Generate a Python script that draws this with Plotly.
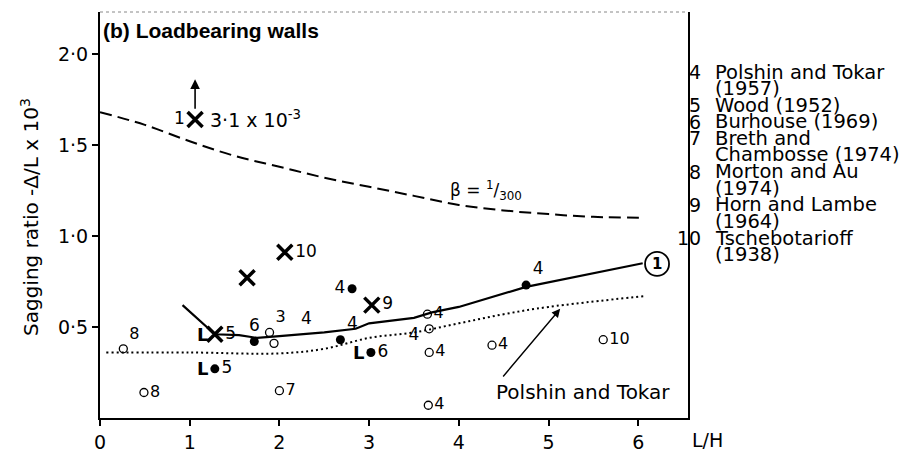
import plotly.graph_objects as go

# ---------------- data ----------------
# beta = 1/300 dashed curve
beta_x = [0.0, 0.5, 1.0, 1.5, 2.0, 2.5, 3.0, 3.5, 4.0, 4.5, 5.0, 5.5, 6.05]
beta_y = [1.68, 1.61, 1.52, 1.44, 1.38, 1.32, 1.27, 1.22, 1.17, 1.14, 1.12, 1.105, 1.10]

# curve (1) solid
c1_x = [0.92, 1.28, 1.55, 1.75, 2.0, 2.5, 2.85, 3.0, 3.5, 3.7, 4.0, 4.75, 6.05]
c1_y = [0.62, 0.46, 0.455, 0.44, 0.45, 0.47, 0.49, 0.52, 0.55, 0.58, 0.61, 0.72, 0.85]

# Polshin and Tokar dotted curve
pt_x = [0.07, 1.0, 2.0, 2.5, 3.0, 3.5, 4.0, 4.5, 5.0, 6.08]
pt_y = [0.36, 0.36, 0.355, 0.38, 0.44, 0.47, 0.52, 0.57, 0.61, 0.67]

# open circles
open_x = [0.26, 0.49, 1.89, 1.94, 2.0, 3.65, 3.67, 3.67, 3.66, 4.37, 5.61]
open_y = [0.38, 0.14, 0.47, 0.41, 0.15, 0.57, 0.49, 0.36, 0.07, 0.40, 0.43]
open_lbl = ["8", "8", "3", "", "7", "4", "", "4", "4", "4", "10"]
open_pos = ["top right", "middle right", "top right", "middle right", "middle right",
            "middle right", "middle right", "middle right", "middle right", "middle right", "middle right"]

# filled circles
fill_x = [1.28, 1.72, 2.68, 2.81, 3.02, 4.75]
fill_y = [0.27, 0.42, 0.43, 0.71, 0.36, 0.73]
fill_lbl = ["5", "6", "4", "4", "6", "4"]
fill_pre = ["L", "", "", "", "L", ""]
fill_pos = ["middle right", "top center", "top right", "middle left", "middle right", "top right"]

# crosses
cross_x = [1.06, 1.28, 1.64, 2.06, 3.03]
cross_y = [1.64, 0.46, 0.77, 0.91, 0.62]
cross_lbl = ["1", "5", "", "10", "9"]
cross_pre = ["", "L", "", "", ""]
cross_pos = ["middle left", "middle right", "middle right", "middle right", "middle right"]

# labels without a visible marker
txt_x = [2.3, 3.5]
txt_y = [0.54, 0.45]
txt_lbl = ["4", "4"]

x_ticks = [0, 1, 2, 3, 4, 5, 6]
x_ticktext = ["0", "1", "2", "3", "4", "5", "6"]
y_ticks = [0.5, 1.0, 1.5, 2.0]
y_ticktext = ["0·5", "1·0", "1·5", "2·0"]

legend_num = ["4", "", "5", "6", "7", "", "8", "", "9", "", "10", ""]
legend_txt = ["Polshin and Tokar", "(1957)", "Wood (1952)", "Burhouse (1969)", "Breth and",
              "Chambosse (1974)", "Morton and Au", "(1974)", "Horn and Lambe", "(1964)",
              "Tschebotarioff", "(1938)"]

# ---------------- figure ----------------
FONT = "DejaVu Sans"
TFONT = "Liberation Sans"
W, H = 919, 452
ML, MR, MT, MB = 100, 231, 12, 34
PW, PH = W - ML - MR, H - MT - MB
XR = [0, 6.555]
YR = [0, 2.23]

fig = go.Figure()

fig.add_trace(go.Scatter(x=beta_x, y=beta_y, mode="lines", line_shape="spline",
                         line=dict(color="black", width=2, dash="12px,6px"), hoverinfo="skip"))
fig.add_trace(go.Scatter(x=pt_x, y=pt_y, mode="lines", line_shape="spline",
                         line=dict(color="black", width=2, dash="2px,3px"), hoverinfo="skip"))
fig.add_trace(go.Scatter(x=c1_x, y=c1_y, mode="lines",
                         line=dict(color="black", width=2.2), hoverinfo="skip"))

fig.add_trace(go.Scatter(x=open_x, y=open_y, mode="markers+text", text=open_lbl,
                         textposition=open_pos, textfont=dict(family=FONT, size=16, color="black"),
                         marker=dict(symbol="circle-open", size=8, color="black", line=dict(width=1.3))))
fig.add_trace(go.Scatter(x=fill_x, y=fill_y, mode="markers+text", text=fill_lbl,
                         textposition=fill_pos, textfont=dict(family=FONT, size=17, color="black"),
                         marker=dict(symbol="circle", size=9, color="black")))
fig.add_trace(go.Scatter(x=cross_x, y=cross_y, mode="markers+text", text=cross_lbl,
                         textposition=cross_pos, textfont=dict(family=FONT, size=17, color="black"),
                         marker=dict(symbol="x-thin", size=15, color="black",
                                     line=dict(width=3.5, color="black"))))
fig.add_trace(go.Scatter(x=txt_x, y=txt_y, mode="text", text=txt_lbl,
                         textfont=dict(family=FONT, size=17, color="black")))

ann = []
# "L" prefixes
for xs, ys, pres in ((fill_x, fill_y, fill_pre), (cross_x, cross_y, cross_pre)):
    for x, y, p in zip(xs, ys, pres):
        if p:
            ann.append(dict(x=x, y=y, text="<b>" + p + "</b>", showarrow=False, xanchor="right",
                            yanchor="middle", xshift=-5,
                            font=dict(family=FONT, size=18, color="black")))

# arrow above point 1 and its value
ann.append(dict(x=cross_x[0], y=1.86, ax=cross_x[0], ay=1.69, xref="x", yref="y",
                axref="x", ayref="y", showarrow=True, arrowhead=2, arrowsize=1.2,
                arrowwidth=1.6, arrowcolor="black", text=""))
ann.append(dict(x=1.2, y=1.64, text="3·1 x 10<sup>-3</sup>", showarrow=False, xanchor="left",
                yanchor="middle", font=dict(family=FONT, size=19, color="black")))
# beta label
ann.append(dict(x=3.88, y=1.25, text="β = <sup>1</sup>/<sub>300</sub>", showarrow=False,
                xanchor="left", yanchor="middle", font=dict(family=FONT, size=17, color="black")))
# Polshin and Tokar pointer
ann.append(dict(x=5.13, y=0.60, ax=4.48, ay=0.22, xref="x", yref="y", axref="x", ayref="y",
                showarrow=True, arrowhead=2, arrowsize=1.2, arrowwidth=1.4, arrowcolor="black",
                text=""))
ann.append(dict(x=5.38, y=0.145, text="Polshin and Tokar", showarrow=False,
                xanchor="center", yanchor="middle",
                font=dict(family=FONT, size=20, color="black")))
# circled 1
ann.append(dict(x=6.21, y=0.846, text="<b>1</b>", showarrow=False, xanchor="center",
                yanchor="middle", font=dict(family=FONT, size=15, color="black")))
# title
ann.append(dict(xref="paper", yref="paper", x=0, y=1, xshift=1, yshift=-5,
                text="(b) Loadbearing walls", showarrow=False, xanchor="left", yanchor="top",
                font=dict(family=TFONT, size=21, color="black", weight="bold")))
# axis titles
ann.append(dict(xref="paper", yref="paper", x=0, y=0.5, xshift=-70, yshift=-2,
                xanchor="center", yanchor="middle",
                text="Sagging ratio -Δ/L x 10<sup>3</sup>", textangle=-90, showarrow=False,
                font=dict(family=FONT, size=20, color="black")))
ann.append(dict(xref="paper", yref="paper", x=(707 - ML) / PW, y=-(440 - (MT + PH)) / PH,
                xanchor="center", yanchor="middle",
                text="L/H", showarrow=False, font=dict(family=FONT, size=19, color="black")))
# side legend
for i, (n, t) in enumerate(zip(legend_num, legend_txt)):
    ypx = 72 + 16.6 * i
    yp = 1 - (ypx - MT) / PH
    if n:
        ann.append(dict(xref="paper", yref="paper", x=(703 - ML) / PW, y=yp, text=n,
                        showarrow=False, xanchor="right", yanchor="middle",
                        font=dict(family=FONT, size=19, color="black")))
    ann.append(dict(xref="paper", yref="paper", x=(713 - ML) / PW, y=yp, text=t,
                    showarrow=False, xanchor="left", yanchor="middle",
                    font=dict(family=FONT, size=19.5, color="black")))

shapes = [
    dict(type="circle", xref="x", yref="y", xsizemode="pixel", ysizemode="pixel",
         xanchor=6.21, yanchor=0.846, x0=-12, x1=12, y0=-12, y1=12,
         line=dict(color="black", width=1.8)),
    dict(type="line", xref="paper", yref="paper", x0=0, x1=1, y0=1, y1=1,
         line=dict(color="#888888", width=1, dash="dot")),
]

fig.update_layout(
    width=W, height=H,
    margin=dict(l=ML, r=MR, t=MT, b=MB, autoexpand=False),
    paper_bgcolor="white", plot_bgcolor="white",
    showlegend=False,
    font=dict(family=FONT, size=19, color="black"),
    annotations=ann, shapes=shapes,
    xaxis=dict(range=XR, tickvals=x_ticks, ticktext=x_ticktext, showgrid=False, zeroline=False,
               automargin=False,
               showline=True, linecolor="black", linewidth=2, ticks="outside", ticklen=6,
               tickwidth=2, tickcolor="black", tickfont=dict(family=FONT, size=19, color="black")),
    yaxis=dict(range=YR, tickvals=y_ticks, ticktext=y_ticktext, showgrid=False, zeroline=False,
               automargin=False,
               showline=True, linecolor="black", linewidth=2, mirror=True, ticks="outside",
               ticklen=6, tickwidth=2, tickcolor="black",
               tickfont=dict(family=FONT, size=19, color="black")),
)

fig.write_html("out.html")
